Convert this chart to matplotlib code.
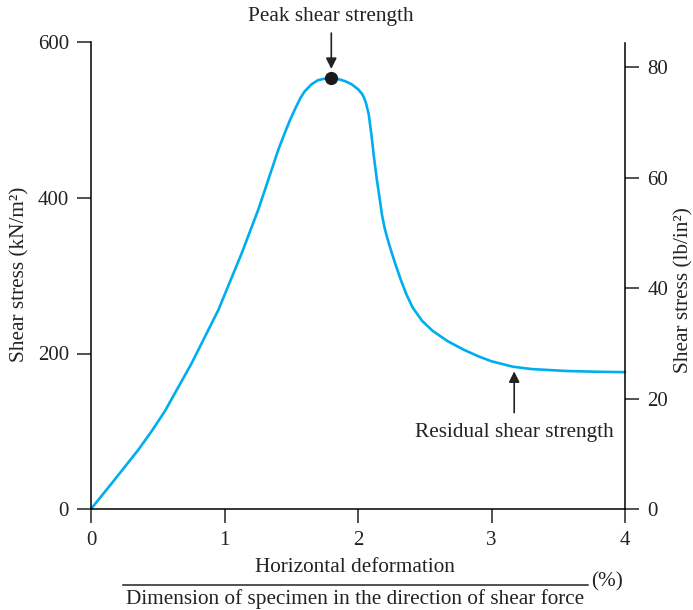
import matplotlib
matplotlib.use('Agg')
import matplotlib.pyplot as plt
from matplotlib.lines import Line2D

plt.rcParams['font.family'] = 'Liberation Serif'

# Data
deform = [0, 0.155, 0.354, 0.454, 0.554, 0.754, 0.954, 1.129, 1.253, 1.403, 1.45,
          1.49, 1.53, 1.57, 1.60, 1.65, 1.70, 1.75, 1.80, 1.85, 1.90, 1.95,
          2.0, 2.03, 2.045, 2.06, 2.08, 2.10, 2.12, 2.14, 2.165, 2.18, 2.20,
          2.22, 2.25, 2.28, 2.32, 2.36, 2.41, 2.48, 2.56, 2.67, 2.79, 2.9,
          3.0, 3.16, 3.3, 3.56, 3.8, 4.0]
stress = [0, 33, 76, 100, 126, 187.5, 256, 329, 385, 462, 483,
          500, 515, 529, 537, 546, 551.5, 553.5, 554, 553, 550.5, 546.5,
          540, 534, 529, 522, 508, 482, 452, 425, 396, 378, 361,
          348, 331, 315, 295, 277, 259, 242, 229, 216, 205, 196.5,
          190, 183, 180, 177.5, 176.5, 176]
peak = (1.80, 554)
residual_x = 3.17

x_ticks = [0, 1, 2, 3, 4]
left_ticks = [0, 200, 400, 600]
right_ticks = [0, 20, 40, 60, 80]

fs = 15.3
ink = '#222222'

fig = plt.figure(figsize=(6.93, 6.10), dpi=100)
ax = fig.add_axes([91/693, 1-509/610, (625-91)/693, (509-42.5)/610])

ax.plot(deform, stress, color='#00aeef', lw=1.9, solid_capstyle='round',
        solid_joinstyle='round', clip_on=False)
ax.plot(peak[0], peak[1], 'o', color='#1a1a1a', ms=8.5, clip_on=False, zorder=5)

ax.set_xlim(0, 4)
ax.set_ylim(0, 600)
ax.set_xticks(x_ticks)
ax.set_yticks(left_ticks)
for s in ['top', 'right']:
    ax.spines[s].set_visible(False)
for s in ['left', 'bottom']:
    ax.spines[s].set_linewidth(1.1)
ax.tick_params(direction='out', length=10, width=1.1, labelsize=15, pad=6, colors=ink)

ax2 = ax.twinx()
ax2.set_ylim(0, 84.5)
ax2.set_yticks(right_ticks)
for s in ['top', 'left', 'bottom']:
    ax2.spines[s].set_visible(False)
ax2.spines['right'].set_linewidth(1.1)
ax2.tick_params(direction='out', length=10, width=1.1, labelsize=15, pad=6, colors=ink)

# Annotations
ax.annotate('Peak shear strength', xy=(peak[0], peak[1] + 12), xytext=(peak[0], 621),
            ha='center', va='bottom', fontsize=fs, color=ink,
            arrowprops=dict(arrowstyle='-|>', color=ink, lw=1.2,
                            mutation_scale=16, shrinkA=3, shrinkB=0),
            annotation_clip=False)
ax.annotate('', xy=(residual_x, 177), xytext=(residual_x, 124),
            arrowprops=dict(arrowstyle='-|>', color=ink, lw=1.2,
                            mutation_scale=16, shrinkA=0, shrinkB=0))
ax.text(residual_x, 99, 'Residual shear strength', ha='center', va='center',
        fontsize=fs, color=ink)

# Axis labels
fig.text(19.5/693, 1-274.5/610, 'Shear stress (kN/m²)', rotation=90, ha='center',
         va='center', fontsize=fs, color=ink)
fig.text(684/693, 1-290/610, 'Shear stress (lb/in²)', rotation=90, ha='center',
         va='center', fontsize=fs, color=ink)

fig.text(355/693, 1-568/610, 'Horizontal deformation', ha='center', va='center',
         fontsize=fs, color=ink)
fig.add_artist(Line2D([123/693, 588/693], [1-585/610, 1-585/610], color=ink, lw=1.1))
fig.text(355/693, 1-599/610, 'Dimension of specimen in the direction of shear force',
         ha='center', va='center', fontsize=fs, color=ink)
fig.text(607/693, 1-582/610, '(%)', ha='center', va='center', fontsize=fs, color=ink)

fig.savefig('out.png', dpi=100)
